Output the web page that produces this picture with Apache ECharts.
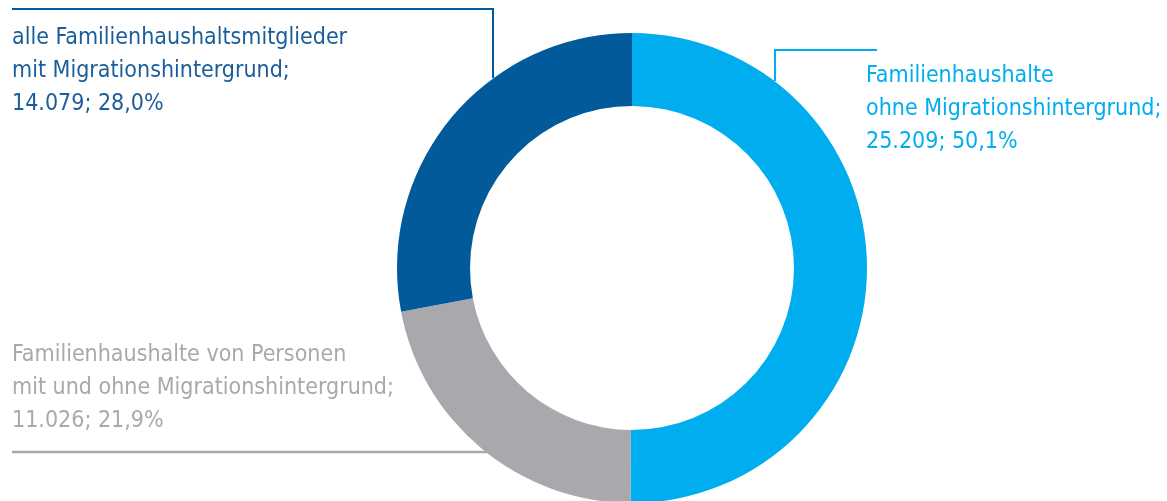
<!DOCTYPE html>
<html>
<head>
<meta charset="utf-8">
<script src="https://cdn.jsdelivr.net/npm/echarts@6/dist/echarts.min.js"></script>
<style>
  html, body { margin: 0; padding: 0; background: #ffffff; }
  #chart { width: 1167px; height: 501px; }
</style>
</head>
<body>
<div id="chart"></div>
<script>
// Familienhaushalte nach Migrationshintergrund (Anzahl in Tsd., Anteil)
const categories = [
  'Familienhaushalte\nohne Migrationshintergrund',
  'Familienhaushalte von Personen\nmit und ohne Migrationshintergrund',
  'alle Familienhaushaltsmitglieder\nmit Migrationshintergrund'
];
const values = [25209, 11026, 14079];
const colors = ['#00aeef', '#a7a9ac', '#035a9b'];
const textColors = ['#00aeef', '#a7a9ac', '#1a5d9a'];

// label placement: text block (left/top) and leader line points
const labelPlacement = [
  { x: 866, y: 60, line: [[775, 81], [775, 50], [877, 50]] },
  { x: 12, y: 339, line: [[487, 452], [250, 452], [12, 452]] },
  { x: 12, y: 22, line: [[493, 78], [493, 9], [12, 9]] }
];

const fmtNum = v => v.toLocaleString('de-DE');
const fmtPct = p => p.toFixed(1).replace('.', ',');

const chart = echarts.init(document.getElementById('chart'), null, { renderer: 'canvas' });

chart.setOption({
  animation: false,
  color: colors,
  series: [{
    type: 'pie',
    center: [632, 268],
    radius: [162, 235],
    startAngle: 90,
    clockwise: true,
    avoidLabelOverlap: false,
    silent: true,
    data: categories.map((name, i) => ({
      name,
      value: values[i],
      label: { color: textColors[i] },
      labelLine: { lineStyle: { color: colors[i], width: i === 1 ? 2.5 : 2 } }
    })),
    label: {
      show: true,
      position: 'outer',
      alignTo: 'none',
      overflow: 'none',
      fontFamily: '"DejaVu Sans Condensed", sans-serif',
      fontSize: 23,
      lineHeight: 33,
      align: 'left',
      formatter: p => p.name + ';\n' + fmtNum(p.value) + '; ' + fmtPct(p.percent) + '%'
    },
    labelLine: {
      show: true,
      length: 10,
      length2: 10,
      lineStyle: { width: 2 }
    },
    labelLayout: params => {
      const pl = labelPlacement[params.dataIndex];
      return {
        x: pl.x,
        y: pl.y,
        align: 'left',
        verticalAlign: 'top',
        labelLinePoints: pl.line
      };
    }
  }]
});
</script>
</body>
</html>
